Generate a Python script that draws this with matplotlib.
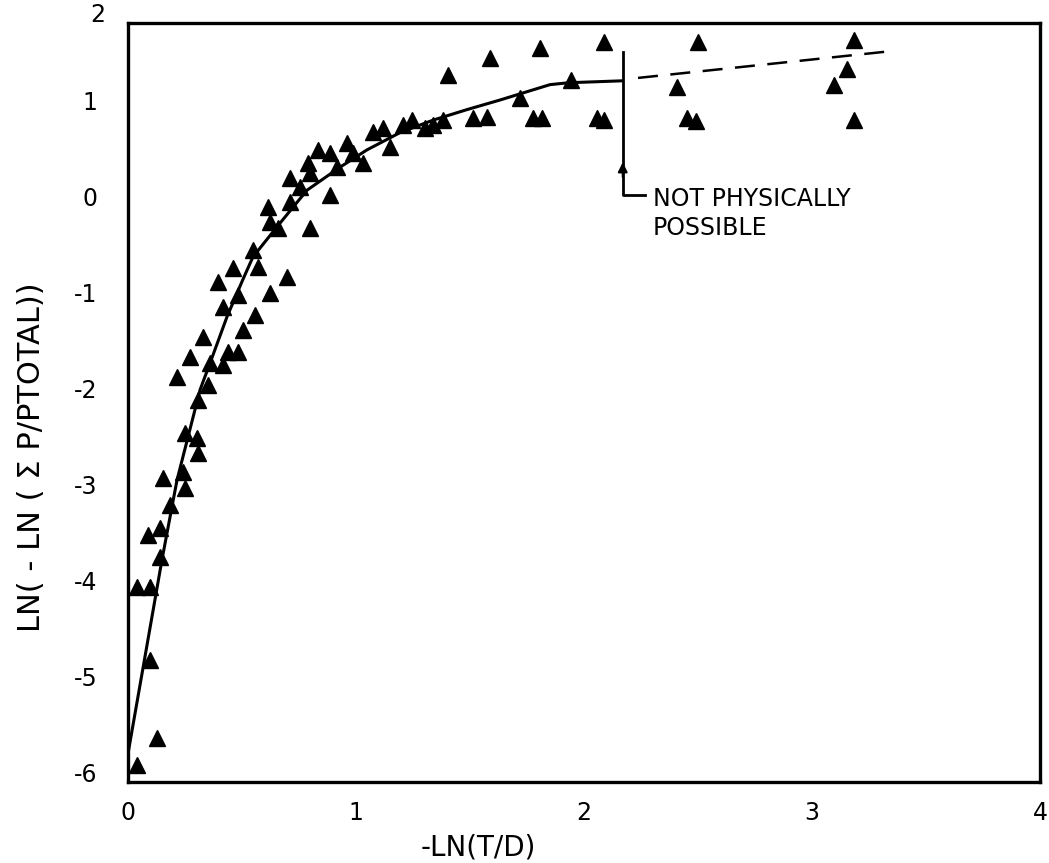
import matplotlib
matplotlib.use("Agg")
import matplotlib.pyplot as plt

plt.rcParams["axes.unicode_minus"] = False
plt.rcParams["font.family"] = "DejaVu Sans"

# measured points: -LN(T/D) vs LN(-LN(sum P / PTOTAL))
x_pts = [
    1.404, 1.588, 1.807, 1.719, 1.776, 1.816, 1.513, 1.575, 1.338, 1.382,
    1.303, 1.206, 1.246, 1.075, 1.118, 1.149, 0.961, 0.987, 1.031, 0.833,
    0.886, 0.789, 0.798, 0.917, 0.711, 0.754, 0.886, 0.711, 0.614, 0.623,
    0.658, 0.798, 0.548, 0.461, 0.570, 0.395, 0.697, 0.623, 0.482, 0.417,
    0.557, 0.504, 0.329, 0.272, 0.439, 0.482, 0.360, 0.417, 0.215, 0.351,
    0.307, 0.250, 0.303, 0.307, 0.241, 0.154, 0.250, 0.184, 0.088, 0.140,
    0.140, 0.039, 0.096, 0.096, 0.127, 0.039,
    2.088, 1.943, 2.057, 2.088, 2.500, 2.408, 2.452, 2.491,
    3.184, 3.154, 3.096, 3.184,
]
y_pts = [
    1.27, 1.45, 1.55, 1.03, 0.82, 0.82, 0.82, 0.83, 0.75, 0.80,
    0.72, 0.75, 0.80, 0.68, 0.72, 0.52, 0.56, 0.46, 0.35, 0.49,
    0.46, 0.35, 0.25, 0.31, 0.20, 0.10, 0.02, -0.05, -0.10, -0.26,
    -0.32, -0.32, -0.55, -0.74, -0.73, -0.89, -0.83, -1.00, -1.02, -1.15,
    -1.23, -1.39, -1.46, -1.67, -1.61, -1.61, -1.73, -1.75, -1.875, -1.96,
    -2.11, -2.46, -2.51, -2.67, -2.86, -2.93, -3.03, -3.21, -3.52, -3.45,
    -3.75, -4.06, -4.06, -4.82, -5.64, -5.92,
    1.61, 1.22, 0.82, 0.80, 1.61, 1.15, 0.82, 0.79,
    1.64, 1.33, 1.17, 0.80,
]

# hand-drawn fit curve
fit_x = [0.0, 0.149, 0.215, 0.316, 0.36, 0.434, 0.504, 0.548, 0.654, 0.785,
         0.93, 1.048, 1.193, 1.338, 1.487, 1.632, 1.851, 1.934, 2.17]
fit_y = [-5.80, -3.78, -2.95, -2.01, -1.73, -1.25, -0.86, -0.625, -0.31, 0.07,
         0.31, 0.49, 0.67, 0.80, 0.91, 1.01, 1.17, 1.19, 1.21]

# extrapolated part
dash_x = [2.237, 3.351]
dash_y = [1.24, 1.52]

x_ticks = [0, 1, 2, 3, 4]
x_labels = ["0", "1", "2", "3", "4"]
y_ticks = [-6, -5, -4, -3, -2, -1, 0, 1]
y_labels = ["-6", "-5", "-4", "-3", "-2", "-1", "0", "1"]

fig = plt.figure(figsize=(10.49, 8.63), dpi=100)
ax = fig.add_axes([0.122, 0.0939, 0.8694, 0.8795])

ax.plot(fit_x, fit_y, color="black", lw=2.2, solid_capstyle="butt")
ax.plot(dash_x, dash_y, color="black", lw=1.8, linestyle=(0, (8, 5)))
ax.plot(x_pts, y_pts, linestyle="none", marker="^", color="black",
        markersize=11, clip_on=False)

# "not physically possible" bracket + arrow
ax.plot([2.17, 2.17, 2.268], [1.51, 0.02, 0.02], color="black", lw=2.0)
ax.annotate("", xy=(2.17, 0.39), xytext=(2.17, 0.18),
            arrowprops=dict(arrowstyle="-|>", color="black", lw=1.5,
                            mutation_scale=14))
ax.text(2.303, -0.172, "NOT PHYSICALLY\nPOSSIBLE", fontsize=17,
        ha="left", va="center", linespacing=1.3)

ax.set_xlim(0, 4)
ax.set_ylim(-6.094, 1.8125)
ax.set_xticks(x_ticks)
ax.set_xticklabels(x_labels)
ax.set_yticks(y_ticks)
ax.set_yticklabels(y_labels)
ax.tick_params(length=0, labelsize=17, pad=14)
ax.tick_params(axis="y", pad=22)
ax.text(-0.1, 1.9, "2", fontsize=17, ha="right", va="center", clip_on=False)

for s in ax.spines.values():
    s.set_linewidth(2.4)

ax.set_xlabel("-LN(T/D)", fontsize=20)
ax.xaxis.set_label_coords(0.384, -0.087)
ax.xaxis.label.set_verticalalignment("center")
ax.set_ylabel("LN( - LN ( Σ P/PTOTAL))", fontsize=22)
ax.yaxis.set_label_coords(-0.106, 0.428)
ax.yaxis.label.set_verticalalignment("center")

fig.savefig("out.png", dpi=100)
